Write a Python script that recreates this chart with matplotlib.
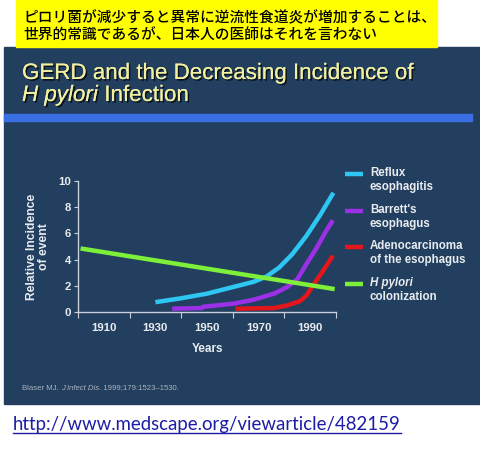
import numpy as np
import matplotlib
matplotlib.use("Agg")
import matplotlib.pyplot as plt
import matplotlib.patheffects as pe
from matplotlib.patches import Rectangle
from matplotlib.lines import Line2D

# ---- data ----
reflux_years = [1930, 1940, 1950, 1960, 1968, 1973, 1978, 1983, 1988.5, 1994, 1999]
reflux_vals = [0.75, 1.05, 1.4, 1.9, 2.3, 2.7, 3.4, 4.4, 5.8, 7.45, 9.1]
barrett_years = [1936.5, 1948, 1948.5, 1960, 1968, 1976, 1981, 1985, 1988.5, 1992.5, 1996.5, 1998.8]
barrett_vals = [0.25, 0.3, 0.4, 0.63, 0.93, 1.4, 1.9, 2.5, 3.65, 4.9, 6.3, 7.0]
adeno_years = [1961, 1976, 1981, 1986, 1988.5, 1991, 1994.5, 1996.5, 1998.8]
adeno_vals = [0.25, 0.3, 0.5, 0.83, 1.25, 2.0, 3.0, 3.6, 4.3]
hp_years = [1901, 1999.5]
hp_vals = [4.85, 1.75]

series_labels = ["Reflux\nesophagitis", "Barrett's\nesophagus",
                 "Adenocarcinoma\nof the esophagus", "H pylori\ncolonization"]
series_colors = ["#2ec6f2", "#9b30e6", "#e3161c", "#7ff03a"]

major_ticks = [1900, 1920, 1940, 1960, 1980, 2000]
year_labels = [1910, 1930, 1950, 1970, 1990]
y_ticks = [0, 2, 4, 6, 8, 10]

W, H = 480, 463
bg = "#233f5f"
fg = "#e8ecf0"

fig = plt.figure(figsize=(W / 100, H / 100), dpi=100)
fig.patch.set_facecolor("white")


def fx(px):
    return px / W


def fy(py):
    return 1 - py / H


# slide background, yellow note box, blue bar
fig.add_artist(Rectangle((fx(4), fy(404)), fx(480) - fx(4), fy(47) - fy(404),
                         transform=fig.transFigure, color=bg, zorder=0))
fig.add_artist(Rectangle((fx(16), fy(47)), fx(437) - fx(16), fy(0) - fy(47),
                         transform=fig.transFigure, color="#ffff00", zorder=0))
fig.add_artist(Rectangle((fx(4), fy(121)), fx(472) - fx(4), fy(114) - fy(121),
                         transform=fig.transFigure, color="#3a6fe3", zorder=1))

jp = ["Noto Sans CJK JP", "DejaVu Sans"]
fig.text(fx(23), fy(18), "ピロリ菌が減少すると異常に逆流性食道炎が増加することは、",
         family=jp, fontsize=10.6, va="center", color="black", fontweight="medium")
fig.text(fx(23), fy(36), "世界的常識であるが、日本人の医師はそれを言わない",
         family=jp, fontsize=10.6, va="center", color="black", fontweight="medium")

renderer = fig.canvas.get_renderer()


def run_text(x, y, pieces, **kw):
    # consecutive text pieces with different styles on one baseline
    for s, style in pieces:
        t = fig.text(x, y, s, fontstyle=style, **kw)
        bb = t.get_window_extent(renderer)
        x += bb.width / W
    return x


shadow = [pe.withSimplePatchShadow(offset=(1.2, -1.2), shadow_rgbFace="black", alpha=0.7), pe.Normal()]
title_kw = dict(family="Liberation Sans", fontsize=16.1, color="#f2f0a0",
                va="baseline", path_effects=shadow)
fig.text(fx(22), fy(79), "GERD and the Decreasing Incidence of", **title_kw)
run_text(fx(22), fy(101), [("H pylori", "italic"), (" Infection", "normal")], **title_kw)

# chart
ax = fig.add_axes([fx(78), fy(312), fx(336) - fx(78), fy(181) - fy(312)])
ax.set_facecolor(bg)
ax.patch.set_alpha(0)
lw = 3.2
ax.plot(reflux_years, reflux_vals, color=series_colors[0], lw=lw, solid_capstyle="butt")
ax.plot(barrett_years, barrett_vals, color=series_colors[1], lw=lw, solid_capstyle="butt")
ax.plot(adeno_years, adeno_vals, color=series_colors[2], lw=lw, solid_capstyle="butt")
ax.plot(hp_years, hp_vals, color=series_colors[3], lw=lw, solid_capstyle="butt")
ax.set_xlim(1900, 2000)
ax.set_ylim(0, 10)
for s in ["top", "right"]:
    ax.spines[s].set_visible(False)
for s in ["left", "bottom"]:
    ax.spines[s].set_color("#c9d2dc")
    ax.spines[s].set_linewidth(1.0)
ax.set_xticks(major_ticks)
ax.set_xticklabels([""] * len(major_ticks))
ax.set_xticks(year_labels, minor=True)
ax.set_xticklabels([str(y) for y in year_labels], minor=True)
ax.tick_params(axis="x", which="major", direction="out", length=4, color="#c9d2dc")
ax.tick_params(axis="x", which="minor", length=0, pad=8, labelsize=8.2, labelcolor=fg)
ax.set_yticks(y_ticks)
ax.tick_params(axis="y", direction="out", length=3, color="#c9d2dc", pad=2,
               labelsize=8.2, labelcolor=fg)
for lab in ax.get_xticklabels(minor=True) + ax.get_yticklabels():
    lab.set_fontweight("bold")
    lab.set_family("Liberation Sans")
ax.set_xlabel("Years", fontsize=8.5, fontweight="bold", color=fg, family="Liberation Sans", labelpad=7)
ax.set_ylabel("Relative Incidence\nof event", fontsize=8.7, fontweight="bold", color=fg,
              family="Liberation Sans", labelpad=6, linespacing=1.0)

# legend drawn by hand
leg_y = [174, 211, 247, 284]
leg_kw = dict(family="Liberation Sans", fontsize=8.3, fontweight="bold", color=fg, va="center")
for i, (lab, c) in enumerate(zip(series_labels, series_colors)):
    y0 = leg_y[i]
    fig.add_artist(Line2D([fx(345), fx(363)], [fy(y0), fy(y0)], color=c, lw=lw,
                          transform=fig.transFigure, solid_capstyle="butt"))
    first, second = lab.split("\n")
    if i == 3:
        fig.text(fx(370), fy(y0 - 1), first, fontstyle="italic", **leg_kw)
    else:
        fig.text(fx(370), fy(y0 - 1), first, **leg_kw)
    fig.text(fx(370), fy(y0 + 13), second, **leg_kw)

# citation
cite_kw = dict(family="Liberation Sans", fontsize=5.6, color="#aab3bd", va="center")
run_text(fx(22), fy(388), [("Blaser MJ. ", "normal"), ("J Infect Dis", "italic"),
                           (". 1999;179:1523\u20131530.", "normal")], **cite_kw)

# url
url = fig.text(fx(13), fy(430), "http://www.medscape.org/viewarticle/482159",
               family="Lato", fontsize=13.4, color="#1c1ca8", va="baseline")
bb = url.get_window_extent(renderer)
fig.add_artist(Line2D([fx(13), fx(13) + bb.width / W], [fy(433), fy(433)], color="#1c1ca8",
                      lw=1.0, transform=fig.transFigure))

fig.savefig("out.png", dpi=100, facecolor=fig.get_facecolor())
